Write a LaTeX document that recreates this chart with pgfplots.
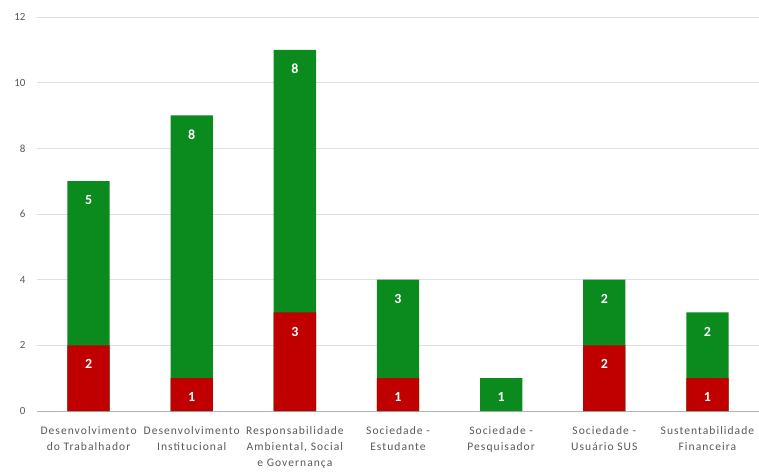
\documentclass[border=0pt]{standalone}
\usepackage{pgfplots}
\pgfplotsset{compat=1.18}
\usepackage{fontspec}
\setmainfont{Carlito}
\newfontfamily\labfont[LetterSpace=9]{Carlito}
\definecolor{bargreen}{HTML}{0B8A1E}
\definecolor{barred}{HTML}{C00000}
\definecolor{ticktxt}{HTML}{595959}
\begin{document}
\begin{tikzpicture}
\begin{axis}[
  at={(0,0)}, anchor=south west,
  scale only axis,
  width=722bp, height=394bp,
  xmin=-0.5, xmax=6.5,
  ymin=0, ymax=12,
  ytick={0,2,...,12},
  xtick={0,...,6},
  xticklabels={{Desenvolvimento\\do Trabalhador},{Desenvolvimento\\Institucional},{Responsabilidade\\Ambiental, Social\\e Governança},{Sociedade -\\Estudante},{Sociedade -\\Pesquisador},{Sociedade -\\Usuário SUS},{Sustentabilidade\\Financeira}},
  xticklabel style={align=center, font=\labfont\fontsize{11.6}{16}\selectfont, text=ticktxt, yshift=-12bp},
  yticklabel style={font=\fontsize{11}{12}\selectfont, text=ticktxt, xshift=-8bp},
  /pgf/number format/assume math mode=true,
  axis x line*=bottom,
  axis y line*=left,
  y axis line style={draw=none},
  x axis line style={draw=gray!60, line width=0.8pt},
  ymajorgrids,
  grid style={draw=gray!25, line width=0.6pt},
  major tick length=0pt,
  tick style={draw=none},
  point meta=explicit symbolic,
  clip=false,
]
\addplot[ybar, bar width=0.41, bar shift=0pt, fill=bargreen, draw=none] coordinates {
 (0,7) (1,9) (2,11) (3,4) (4,1) (5,4) (6,3)
};
\addplot[ybar, bar width=0.41, bar shift=0pt, fill=barred, draw=none] coordinates {
 (0,2) (1,1) (2,3) (3,1) (5,2) (6,1)
};
\addplot[draw=none, mark=none, nodes near coords,
  every node near coord/.append style={anchor=center, yshift=-19bp, text=white, font=\fontsize{14}{16}\selectfont\bfseries}]
 coordinates {
 (0,7) [5] (1,9) [8] (2,11) [8] (3,4) [3] (4,1) [1] (5,4) [2] (6,3) [2]
 (0,2) [2] (1,1) [1] (2,3) [3] (3,1) [1] (5,2) [2] (6,1) [1]
};
\end{axis}
\pgfresetboundingbox
\path[use as bounding box] (-37bp,-61bp) rectangle (722bp,411bp);
\end{tikzpicture}
\end{document}
